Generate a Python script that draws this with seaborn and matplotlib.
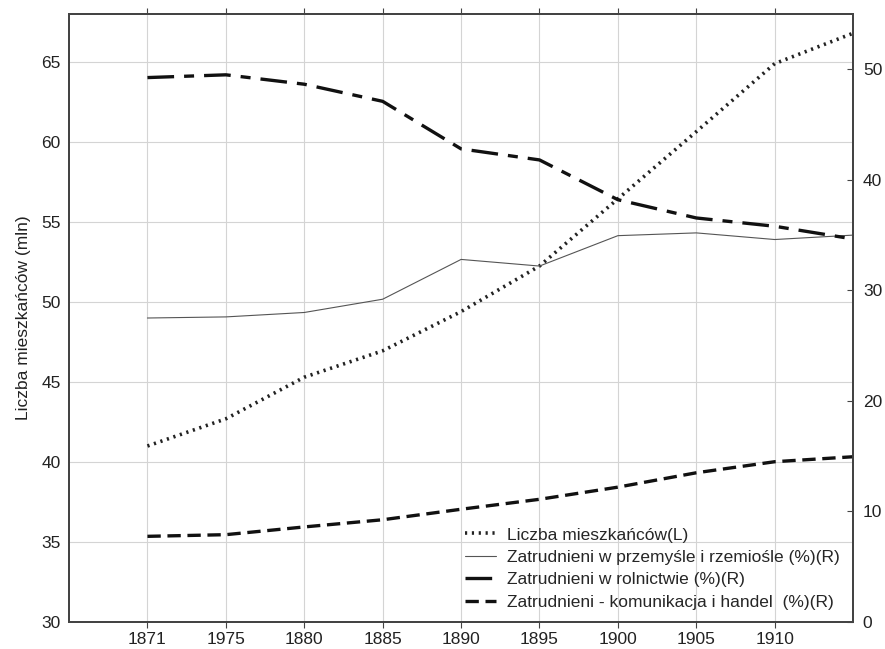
import numpy as np
import pandas as pd
import matplotlib
matplotlib.use('Agg')
import matplotlib.pyplot as plt
import seaborn as sns

years = ['1871', '1975', '1880', '1885', '1890', '1895', '1900', '1905', '1910', '']
ludnosc = [41.0, 42.7, 45.3, 46.95, 49.4, 52.25, 56.45, 60.65, 64.9, 66.8]
przemysl = [27.5, 27.6, 28.0, 29.2, 32.8, 32.2, 34.95, 35.2, 34.6, 35.0]
rolnictwo = [49.25, 49.5, 48.65, 47.1, 42.8, 41.8, 38.2, 36.55, 35.8, 34.65]
handel = [7.75, 7.9, 8.6, 9.25, 10.2, 11.1, 12.2, 13.5, 14.5, 14.95]

df = pd.DataFrame({'pos': np.arange(1, len(years) + 1), 'ludnosc': ludnosc,
                   'przemysl': przemysl, 'rolnictwo': rolnictwo, 'handel': handel})

sns.set_style('white')
plt.rcParams['font.family'] = ['Liberation Sans', 'DejaVu Sans']
plt.rcParams['font.size'] = 12.5

fig = plt.figure(figsize=(8.85, 6.49), dpi=100)
ax = fig.add_axes([0.078, 0.0416, 0.886, 0.9368])
ax2 = ax.twinx()

sns.lineplot(data=df, x='pos', y='ludnosc', ax=ax, color='#222222', lw=2.6,
             linestyle=(0, (0.6, 1.3)), label='Liczba mieszkańców(L)', legend=False)
sns.lineplot(data=df, x='pos', y='przemysl', ax=ax2, color='#555555', lw=0.8,
             label='Zatrudnieni w przemyśle i rzemiośle (%)(R)', legend=False)
sns.lineplot(data=df, x='pos', y='rolnictwo', ax=ax2, color='#111111', lw=2.4,
             linestyle=(0, (8, 3, 3, 3)), label='Zatrudnieni w rolnictwie (%)(R)', legend=False)
sns.lineplot(data=df, x='pos', y='handel', ax=ax2, color='#111111', lw=2.4,
             linestyle=(0, (4, 2)), label='Zatrudnieni - komunikacja i handel  (%)(R)', legend=False)

ax.set_xlim(0, 10)
ax.set_ylim(30, 68)
ax2.set_ylim(0, 55)
ax.set_yticks(np.arange(30, 66, 5))
ax2.set_yticks(np.arange(0, 51, 10))
ax.set_xticks(df['pos'][:9], years[:9])

ax.grid(True, color='#d4d4d4', lw=0.8)
ax2.grid(False)
ax.set_xlabel('')
ax.set_ylabel('Liczba mieszkańców (mln)', fontsize=12.5, color='#222222', labelpad=7)
ax2.set_ylabel('')

for a in (ax, ax2):
    for s in a.spines.values():
        s.set_color('#444444')
        s.set_linewidth(1.4)
ax.tick_params(axis='x', which='both', bottom=True, top=True, direction='out',
               length=4, color='#444444', labelcolor='#222222', pad=3)
ax.tick_params(axis='y', length=0, labelcolor='#222222', pad=6)
ax2.tick_params(axis='y', direction='in', length=4, color='#444444', labelcolor='#222222', pad=7)

h1, l1 = ax.get_legend_handles_labels()
h2, l2 = ax2.get_legend_handles_labels()
ax2.legend(h1 + h2, l1 + l2, loc='lower left', bbox_to_anchor=(0.505, 0.02),
           frameon=False, borderpad=0, borderaxespad=0, handlelength=1.8,
           handletextpad=0.6, labelspacing=0.42, fontsize=12.5)

fig.savefig('out.png', dpi=100)
